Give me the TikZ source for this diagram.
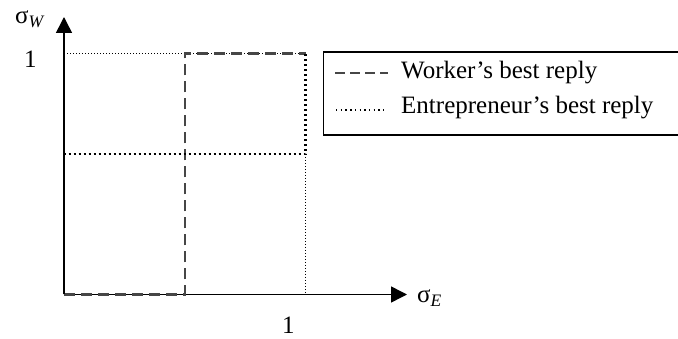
\documentclass[tikz,border=0pt]{standalone}
\usepackage{graphicx}
\usepackage{fontspec}
\setmainfont{Liberation Serif}
\usetikzlibrary{arrows.meta}
\tikzset{
  axis/.style={line width=1.5pt, -{Triangle[length=16pt,width=16pt]}},
  worker/.style={line width=2.6pt, draw={rgb,255:red,70;green,70;blue,70}, dash pattern=on 11pt off 6pt},
  entre/.style={line width=2.2pt, draw=black, dash pattern=on 2.2pt off 2.8pt},
  guide/.style={line width=0.9pt, draw=black, dash pattern=on 1pt off 2pt},
  lbl/.style={inner sep=0pt, anchor=base west, font=\fontsize{25}{28}\selectfont},
  legendbox/.style={line width=1.2pt, draw=black}
}
\begin{document}
\begin{tikzpicture}[x=1pt,y=-1pt]
\useasboundingbox (0,0) rectangle (678,339);
\clip (0,0) rectangle (678,339);
% key coordinates
\coordinate (O) at (64,294.5);
\coordinate (Ytip) at (64,17);
\coordinate (Xtip) at (407,294.5);
\coordinate (TL) at (64,53.5);
\coordinate (TM) at (185,53.5);
\coordinate (TR) at (305.5,53.5);
\coordinate (ML) at (64,154);
\coordinate (MR) at (305.5,154);
\coordinate (BM) at (185,294.5);
\coordinate (BR) at (305.5,294.5);
% guide lines
\draw[guide] (TL) -- (TR);
\draw[guide] (MR) -- (BR);
% axes
\draw[axis] (O) -- (Ytip);
\draw[axis] (O) -- (Xtip);
% worker's best reply
\draw[worker] (O) -- (BM) -- (TM) -- (TR);
% entrepreneur's best reply
\draw[entre] (O) -- (ML) -- (MR) -- (TR);
% axis labels
\node[lbl] (sw) at (15,24) {σ\textsubscript{\textit{W}}};
\node[lbl] (se) at (417,303) {σ\textsubscript{\textit{E}}};
\node[lbl] (oney) at (24,68) {1};
\node[lbl] (onex) at (282,334) {1};
% legend
\draw[legendbox] (323.5,52) rectangle (700,135);
\coordinate (wa) at (335,73);
\coordinate (wb) at (388,73);
\coordinate (ea) at (336,110);
\coordinate (eb) at (384,110);
\draw[line width=2pt, draw={rgb,255:red,70;green,70;blue,70}, dash pattern=on 10pt off 5pt] (wa) -- (wb);
\draw[line width=1.2pt, dash pattern=on 1.4pt off 3.3pt] (ea) -- (eb);
\node[lbl] (wt) at (401,79) {Worker’s best reply};
\node[lbl] (et) at (401,114) {Entrepreneur’s best reply};
\end{tikzpicture}
\end{document}
